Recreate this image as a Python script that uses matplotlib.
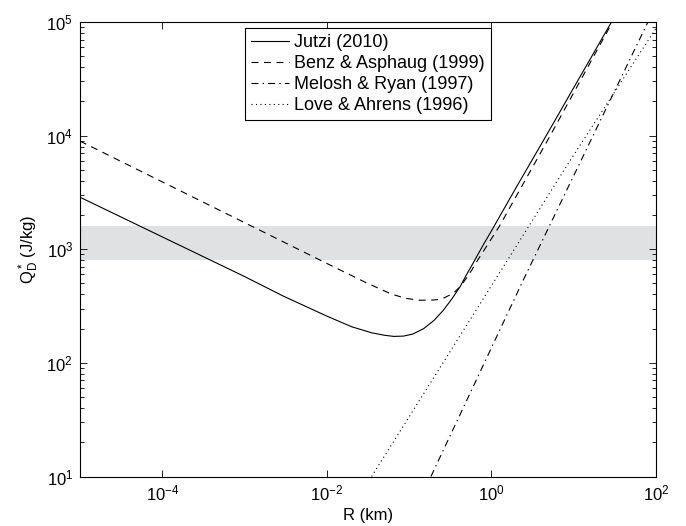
import matplotlib
matplotlib.use("Agg")
import matplotlib.pyplot as plt
from matplotlib.ticker import NullLocator, LogLocator

plt.rcParams['font.family'] = ['Liberation Sans', 'DejaVu Sans']
plt.rcParams['mathtext.fontset'] = 'custom'
plt.rcParams['mathtext.rm'] = 'Liberation Sans'
plt.rcParams['mathtext.it'] = 'Liberation Sans'
plt.rcParams['mathtext.default'] = 'regular'
plt.rcParams['lines.scale_dashes'] = False

# Jutzi (2010)
jutzi_r = [1e-5, 1e-3, 3e-3, 0.01, 0.02, 0.035, 0.05, 0.065, 0.085, 0.11, 0.15,
           0.2, 0.26, 0.33, 0.414, 0.5, 0.62, 0.8, 1.0, 2.0, 5.0, 10, 28.8]
jutzi_q = [2870, 575, 385, 258, 208, 184, 175, 171, 172, 179, 200,
           236, 290, 365, 466, 600, 790, 1100, 1450, 3500, 11000, 26400, 1e5]

# Benz & Asphaug (1999)
benz_r = [1e-5, 1e-3, 0.01, 0.03, 0.06, 0.09, 0.135, 0.18, 0.22, 0.26, 0.3,
          0.35, 0.414, 0.5, 0.58, 0.68, 1.25, 4.83, 29.6]
benz_q = [8950, 1714, 750, 508, 405, 370, 356, 356, 360, 370, 390,
          415, 466, 560, 660, 800, 1596, 9127, 1e5]

# Melosh & Ryan (1997)
melosh_r = [0.184, 2.43, 73.3, 100]
melosh_q = [10, 533, 88000, 1.4e5]

# Love & Ahrens (1996)
love_r = [0.035, 1.1, 8.57, 100]
love_q = [10, 533, 5690, 88000]

# target range shown as grey band
band_lo, band_hi = 800, 1600

fig = plt.figure(figsize=(6.86, 5.26), dpi=100)
ax = fig.add_axes([80 / 686, 1 - 476.5 / 526, 576 / 686, 454.5 / 526])

ax.axhspan(band_lo, band_hi, color='#e0e1e3', lw=0, zorder=0)

lw = 0.8
ax.plot(jutzi_r, jutzi_q, color='k', lw=lw, label='Jutzi (2010)')
ax.plot(benz_r, benz_q, color='k', lw=lw, dashes=(5, 4), label='Benz & Asphaug (1999)')
ax.plot(melosh_r, melosh_q, color='k', lw=lw, dashes=(5, 3, 1, 3), label='Melosh & Ryan (1997)')
ax.plot(love_r, love_q, color='k', lw=lw, dashes=(0.8, 2.4), label='Love & Ahrens (1996)')

ax.set_xscale('log')
ax.set_yscale('log')
ax.set_xlim(1e-5, 1e2)
ax.set_ylim(1e1, 1e5)
ax.set_xticks([1e-4, 1e-2, 1e0, 1e2])
ax.xaxis.set_minor_locator(NullLocator())
ax.yaxis.set_major_locator(LogLocator(base=10, numticks=10))

for s in ax.spines.values():
    s.set_linewidth(0.8)
ax.tick_params(which='both', direction='in', top=True, right=True, labelsize=12, width=0.6)
ax.tick_params(which='major', length=5, pad=5)
ax.tick_params(which='minor', length=3)

ax.set_xlabel('R (km)', fontsize=12, labelpad=3)
ax.set_ylabel('Q$^*_D$ (J/kg)', fontsize=12, labelpad=4)

leg = ax.legend(loc='upper left', bbox_to_anchor=(0.2865, 0.9868), borderaxespad=0,
                fontsize=13, fancybox=False, edgecolor='k', framealpha=1,
                handlelength=2.1, handletextpad=0.3, labelspacing=0.22,
                borderpad=0.33)
leg.get_frame().set_linewidth(0.8)

fig.savefig('out.png', dpi=100)
